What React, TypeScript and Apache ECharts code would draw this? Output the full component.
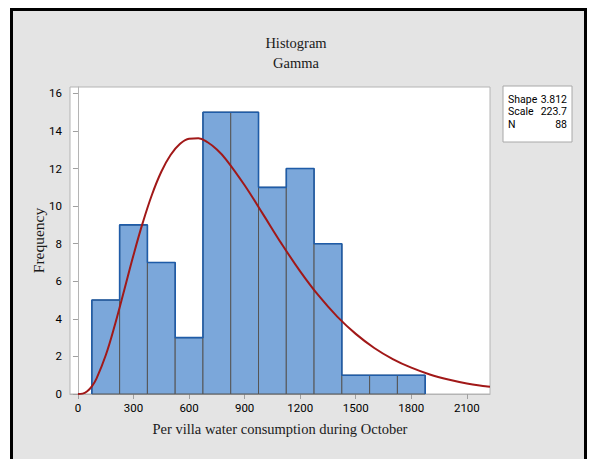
import React, { useEffect, useRef } from "react";
import * as echarts from "echarts";

const binStarts = [75, 225, 375, 525, 675, 825, 975, 1125, 1275, 1425, 1575, 1725];
const binWidth = 150;
const counts = [5, 9, 7, 3, 15, 15, 11, 12, 8, 1, 1, 1];

const curveX = [0, 25, 50, 75, 100, 150, 200, 250, 300, 350, 400, 450, 500, 550, 600, 650, 700, 750, 800, 900, 1000, 1100, 1200, 1300, 1400, 1500, 1600, 1700, 1800, 1900, 2000, 2100, 2200, 2225];
const curveY = [0, 0.02, 0.15, 0.41, 0.82, 2.06, 3.7, 5.54, 7.4, 9.12, 10.62, 11.83, 12.72, 13.3, 13.59, 13.61, 13.4, 13.01, 12.48, 11.11, 9.56, 7.99, 6.53, 5.23, 4.12, 3.2, 2.45, 1.86, 1.4, 1.04, 0.77, 0.56, 0.41, 0.38];

const xTicks = [0, 300, 600, 900, 1200, 1500, 1800, 2100];
const yTicks = [0, 2, 4, 6, 8, 10, 12, 14, 16];

const statLabels = ["Shape", "Scale", "N"];
const statValues = ["3.812", "223.7", "88"];

const titleText = "Histogram\nGamma";
const xAxisTitle = "Per villa water consumption during October";
const yAxisTitle = "Frequency";

const SERIF = "'Liberation Serif', 'DejaVu Serif', serif";
const SANS = "Roboto, 'Liberation Sans', sans-serif";

export default function App() {
  const ref = useRef<HTMLDivElement>(null);

  useEffect(() => {
    if (!ref.current) return;
    const chart = echarts.init(ref.current, undefined, { renderer: "svg" });

    const barData = binStarts.map((s, i) => [s, s + binWidth, counts[i]]);
    const outline: number[][] = [[binStarts[0], 0]];
    binStarts.forEach((s, i) => {
      outline.push([s, counts[i]]);
      outline.push([s + binWidth, counts[i]]);
    });
    outline.push([binStarts[binStarts.length - 1] + binWidth, 0]);
    const curveData = curveX.map((x, i) => [x, curveY[i]]);

    const statChildren: any[] = [
      {
        type: "rect",
        shape: { x: 0, y: 0, width: 69, height: 56 },
        style: { fill: "#ffffff", stroke: "#a8a8a8", lineWidth: 1 },
      },
    ];
    statLabels.forEach((lab, i) => {
      statChildren.push({
        type: "text",
        x: 5,
        y: 13 + i * 12.5,
        style: { text: lab, font: `10.5px ${SANS}`, fill: "#000", textAlign: "left", textVerticalAlign: "middle" },
      });
      statChildren.push({
        type: "text",
        x: 64,
        y: 13 + i * 12.5,
        style: { text: statValues[i], font: `10.5px ${SANS}`, fill: "#000", textAlign: "right", textVerticalAlign: "middle" },
      });
    });

    const fmt = (v: number) => String(v);

    chart.setOption({
      animation: false,
      backgroundColor: "transparent",
      title: {
        text: titleText,
        left: "center",
        top: 28,
        textStyle: { fontFamily: SERIF, fontSize: 14.5, fontWeight: "normal", color: "#1a1a1a", lineHeight: 20 },
      },
      grid: {
        left: 70,
        top: 87,
        right: 102,
        bottom: 65,
        show: true,
        backgroundColor: "#ffffff",
        borderColor: "#b4b4b4",
        borderWidth: 1,
      },
      xAxis: {
        type: "value",
        min: -43,
        max: 2225,
        name: xAxisTitle,
        nameLocation: "middle",
        nameGap: 35,
        nameMoveOverlap: false,
        nameTextStyle: { fontFamily: SERIF, fontSize: 14.5, color: "#1a1a1a", verticalAlign: "middle" },
        axisLine: { show: true, lineStyle: { color: "#b4b4b4" } },
        axisTick: { show: true, customValues: xTicks, length: 5, lineStyle: { color: "#a0a0a0" } },
        axisLabel: { customValues: xTicks, formatter: fmt, margin: 8, fontSize: 11.5, color: "#000", fontFamily: SANS },
        splitLine: { show: false },
      },
      yAxis: {
        type: "value",
        min: 0,
        max: 16.34,
        name: yAxisTitle,
        nameLocation: "middle",
        nameGap: 32,
        nameMoveOverlap: false,
        nameRotate: 90,
        nameTextStyle: { fontFamily: SERIF, fontSize: 15.5, color: "#1a1a1a", verticalAlign: "middle" },
        axisLine: { show: true, lineStyle: { color: "#b4b4b4" } },
        axisTick: { show: true, customValues: yTicks, length: 5, lineStyle: { color: "#a0a0a0" } },
        axisLabel: { customValues: yTicks, formatter: fmt, margin: 8, fontSize: 11.5, color: "#000", fontFamily: SANS },
        splitLine: { show: false },
      },
      series: [
        {
          type: "custom",
          data: barData,
          encode: { x: [0, 1], y: 2 },
          z: 2,
          renderItem: (params: any, api: any) => {
            const p0 = api.coord([api.value(0), 0]);
            const p1 = api.coord([api.value(1), api.value(2)]);
            return {
              type: "rect",
              shape: { x: p0[0], y: p1[1], width: p1[0] - p0[0], height: p0[1] - p1[1] },
              style: { fill: "#7ba7da", stroke: "#555555", lineWidth: 1 },
            };
          },
        },
        {
          type: "line",
          data: outline,
          symbol: "none",
          z: 3,
          lineStyle: { color: "#1f5ca8", width: 1.6 },
        },
        {
          type: "line",
          data: curveData,
          symbol: "none",
          smooth: 0.4,
          z: 4,
          lineStyle: { color: "#a11818", width: 2 },
        },
      ],
      graphic: [
        {
          type: "group",
          x: 503,
          y: 86,
          children: statChildren,
        },
      ],
    });

    return () => chart.dispose();
  }, []);

  return (
    <div style={{ position: "fixed", left: 0, top: 0, width: 592, height: 459, background: "#ffffff", overflow: "hidden" }}>
      <div
        style={{
          position: "absolute",
          left: 10,
          top: 8,
          width: 577,
          height: 470,
          boxSizing: "border-box",
          border: "3px solid #000",
          background: "#e4e4e4",
        }}
      />
      <div ref={ref} style={{ position: "absolute", left: 0, top: 0, width: 592, height: 459 }} />
    </div>
  );
}
